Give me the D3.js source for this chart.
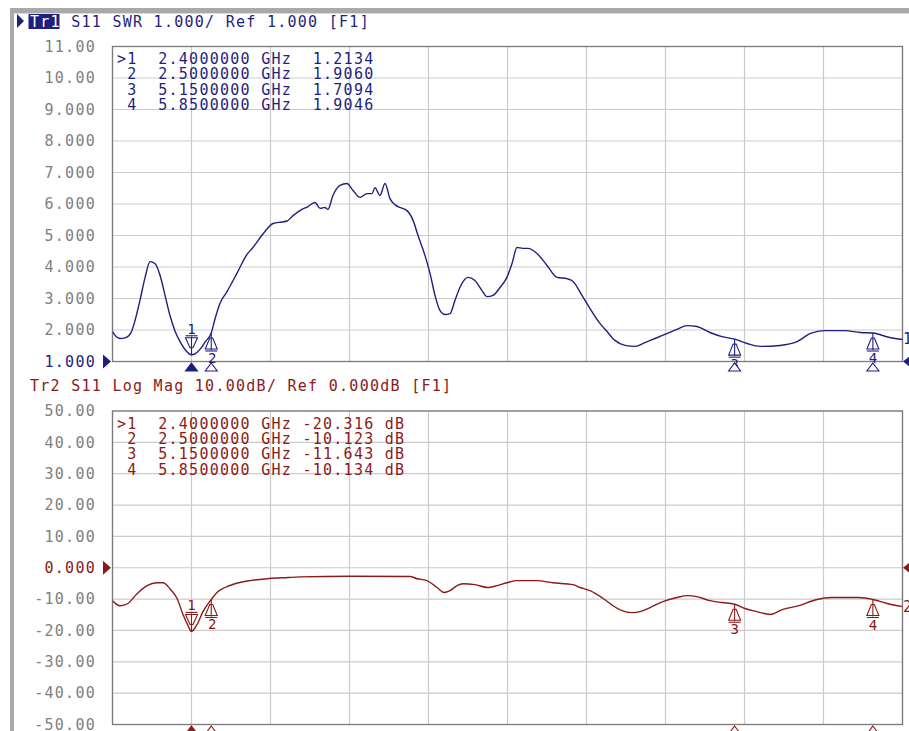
<!DOCTYPE html>
<html>
<head>
<meta charset="utf-8">
<title>S11 SWR / Log Mag</title>
<script src="https://d3js.org/d3.v7.min.js"></script>
<style>
  body { margin: 0; background: #fff; }
  #vna { display: block; }
  #vna text { font-family: "DejaVu Sans Mono", "Liberation Mono", monospace; white-space: pre; }
</style>
</head>
<body>
<svg id="vna"></svg>
<script>
// frequency grid, GHz
const freqTicks = [2.0, 2.4, 2.8, 3.2, 3.6, 4.0, 4.4, 4.8, 5.2, 5.6, 6.0];

// Tr1  S11 SWR  [GHz, SWR]
const swrTrace = [
  [2.000,1.95],[2.018,1.79],[2.038,1.73],[2.068,1.76],[2.094,1.92],[2.114,2.30],[2.139,2.94],
  [2.165,3.67],[2.190,4.17],[2.215,4.11],[2.241,3.73],[2.266,3.10],[2.291,2.46],[2.316,1.98],
  [2.342,1.63],[2.367,1.38],[2.400,1.2134],[2.420,1.25],[2.446,1.41],[2.470,1.63],[2.500,1.906],
  [2.519,2.35],[2.544,2.84],[2.580,3.22],[2.630,3.80],[2.681,4.40],[2.711,4.62],[2.762,5.05],
  [2.813,5.38],[2.858,5.43],[2.884,5.46],[2.914,5.63],[2.949,5.79],[2.990,5.92],[3.025,6.05],
  [3.051,5.86],[3.076,5.89],[3.091,5.83],[3.116,6.27],[3.152,6.59],[3.187,6.65],[3.218,6.43],
  [3.253,6.21],[3.289,6.33],[3.314,6.33],[3.329,6.52],[3.354,6.27],[3.380,6.65],[3.405,6.17],
  [3.430,5.98],[3.456,5.89],[3.491,5.79],[3.522,5.48],[3.547,5.00],[3.582,4.37],[3.608,3.79],
  [3.633,3.10],[3.658,2.62],[3.684,2.49],[3.709,2.52],[3.734,2.94],[3.759,3.35],[3.800,3.67],
  [3.835,3.57],[3.871,3.25],[3.896,3.06],[3.927,3.10],[3.962,3.35],[3.997,3.67],[4.023,4.11],
  [4.048,4.62],[4.078,4.59],[4.104,4.59],[4.149,4.43],[4.200,4.05],[4.251,3.67],[4.301,3.63],
  [4.332,3.54],[4.377,3.10],[4.418,2.68],[4.468,2.21],[4.504,1.95],[4.544,1.67],[4.595,1.51],
  [4.646,1.48],[4.696,1.60],[4.747,1.73],[4.797,1.86],[4.858,2.02],[4.909,2.14],[4.959,2.11],
  [5.025,1.92],[5.086,1.79],[5.150,1.7094],[5.213,1.57],[5.281,1.48],[5.380,1.51],[5.466,1.63],
  [5.534,1.89],[5.605,1.98],[5.706,1.98],[5.787,1.92],[5.850,1.9046],[5.935,1.76],[6.000,1.70]
];
const swrTicks = [11, 10, 9, 8, 7, 6, 5, 4, 3, 2, 1];
const swrTickLabels = ["11.00", "10.00", "9.000", "8.000", "7.000", "6.000", "5.000", "4.000", "3.000", "2.000", "1.000"];

// Tr2  S11 Log Mag  [GHz, dB]
const dbTrace = [
  [2.000,-10.5],[2.038,-12.1],[2.078,-11.4],[2.124,-8.3],[2.175,-5.7],[2.225,-4.8],[2.256,-4.8],
  [2.291,-6.7],[2.327,-9.8],[2.357,-14.9],[2.382,-18.4],[2.400,-20.316],[2.428,-18.1],[2.458,-14.0],
  [2.500,-10.123],[2.529,-7.9],[2.570,-6.3],[2.620,-5.1],[2.696,-4.1],[2.782,-3.5],[2.863,-3.2],
  [2.949,-2.9],[3.203,-2.7],[3.506,-2.8],[3.542,-3.5],[3.592,-4.1],[3.643,-6.3],[3.678,-7.9],
  [3.709,-7.3],[3.744,-5.7],[3.775,-5.1],[3.835,-5.4],[3.901,-6.3],[3.947,-5.7],[3.997,-4.8],
  [4.048,-4.1],[4.149,-4.1],[4.230,-4.8],[4.332,-5.4],[4.367,-6.3],[4.418,-7.3],[4.484,-9.8],
  [4.534,-12.1],[4.580,-13.7],[4.630,-14.3],[4.671,-14.0],[4.722,-12.7],[4.787,-10.8],[4.858,-9.5],
  [4.909,-8.9],[4.959,-9.2],[5.025,-10.5],[5.086,-11.1],[5.150,-11.643],[5.203,-13.0],[5.263,-14.0],
  [5.329,-14.9],[5.395,-13.3],[5.476,-12.1],[5.562,-10.2],[5.643,-9.5],[5.780,-9.5],[5.850,-10.134],
  [5.922,-11.4],[6.000,-12.4]
];
const dbTicks = [50, 40, 30, 20, 10, 0, -10, -20, -30, -40, -50];
const dbTickLabels = ["50.00", "40.00", "30.00", "20.00", "10.00", "0.000", "-10.00", "-20.00", "-30.00", "-40.00", "-50.00"];

// markers
const markerIds = ["1", "2", "3", "4"];
const markerFreq = [2.4, 2.5, 5.15, 5.85];
const markerSwr = [1.2134, 1.9060, 1.7094, 1.9046];
const markerDb = [-20.316, -10.123, -11.643, -10.134];

const W = 909, H = 731;
const blue = '#1f1f80', red = '#8b1a1a', gray = '#808080', gridCol = '#cbcbcb';
const fs = 15, ls = 1.27;   // mono text size / spacing -> ~10.3px per char

const svg = d3.select('#vna').attr('width', W).attr('height', H);
const x = d3.scaleLinear().domain([2, 6]).range([112.5, 902.5]);

// window frame
svg.append('rect').attr('x', 12).attr('y', 8).attr('width', W - 12).attr('height', 5).attr('fill', '#a9a9a9');
svg.append('rect').attr('x', 10).attr('y', 8).attr('width', 4).attr('height', H - 8).attr('fill', '#a9a9a9');
svg.append('line').attr('x1', 14).attr('x2', W).attr('y1', 13.5).attr('y2', 13.5).attr('stroke', '#dcdcdc');

function panel(o) {
  const y = d3.scaleLinear().domain(o.domain).range([o.bottom, o.top]);
  const g = svg.append('g');
  const clipId = 'clip' + o.id;

  g.append('clipPath').attr('id', clipId).append('rect')
    .attr('x', x(2)).attr('y', o.top).attr('width', x(6) - x(2)).attr('height', o.bottom - o.top);

  // grid
  g.selectAll('line.vg').data(freqTicks).join('line').attr('class', 'vg')
    .attr('x1', d => x(d)).attr('x2', d => x(d)).attr('y1', o.top).attr('y2', o.bottom)
    .attr('stroke', gridCol).attr('stroke-width', 1.2);
  g.selectAll('line.hg').data(o.ticks).join('line').attr('class', 'hg')
    .attr('x1', x(2)).attr('x2', x(6)).attr('y1', d => y(d)).attr('y2', d => y(d))
    .attr('stroke', gridCol).attr('stroke-width', 1.2);
  g.append('rect').attr('x', x(2)).attr('y', o.top).attr('width', x(6) - x(2)).attr('height', o.bottom - o.top)
    .attr('fill', 'none').attr('stroke', '#7a7a7a').attr('stroke-width', 1.3);

  // y labels
  const ya = g.append('g').attr('transform', 'translate(96,0)')
    .call(d3.axisLeft(y).tickValues(o.ticks).tickSize(0).tickPadding(0)
      .tickFormat((d, i) => o.labels[i]));
  ya.select('.domain').remove();
  ya.selectAll('text')
    .attr('font-size', fs).attr('letter-spacing', ls)
    .attr('font-family', '"DejaVu Sans Mono", monospace')
    .attr('fill', d => d === o.ref ? o.color : gray);

  // reference level arrows
  const yr = y(o.ref);
  g.append('path').attr('d', `M103,${yr - 7}L111,${yr}L103,${yr + 7}Z`).attr('fill', o.color);
  g.append('path').attr('d', `M903,${yr}L912,${yr - 7}L912,${yr + 7}Z`).attr('fill', o.color);

  // header
  if (o.active) {
    g.append('rect').attr('x', 28.5).attr('y', o.headerY - 13).attr('width', 31).attr('height', 15)
      .attr('fill', o.color);
    g.append('path').attr('d', `M17,${o.headerY - 13}L24,${o.headerY - 6}L17,${o.headerY + 1}Z`)
      .attr('fill', o.color);
  }
  const hdr = g.append('text').attr('x', 30).attr('y', o.headerY)
    .attr('font-size', fs).attr('letter-spacing', ls).attr('fill', o.color);
  hdr.append('tspan').attr('fill', o.active ? '#fff' : o.color).text(o.trName);
  hdr.append('tspan').text(o.header);

  // marker table
  g.selectAll('text.mt').data(markerIds).join('text').attr('class', 'mt')
    .attr('x', 117).attr('y', (d, i) => o.top + 17.5 + i * 15.4)
    .attr('font-size', fs).attr('letter-spacing', ls).attr('fill', o.color)
    .text((d, i) => (i === 0 ? '>' : ' ') + d + '  ' + markerFreq[i].toFixed(7) + ' GHz' + o.fmt(o.mvals[i]));

  // trace
  const line = d3.line().x(d => x(d[0])).y(d => y(d[1])).curve(d3.curveMonotoneX);
  g.append('path').datum(o.trace).attr('d', line).attr('clip-path', `url(#${clipId})`)
    .attr('fill', 'none').attr('stroke', o.color).attr('stroke-width', 1.4);

  // trace number at right edge
  const last = o.trace[o.trace.length - 1];
  g.append('text').attr('x', 903).attr('y', y(last[1]) + 5).attr('font-size', 15)
    .attr('font-family', '"DejaVu Sans", sans-serif').attr('fill', o.color).text(o.trNum);

  // markers on trace
  markerIds.forEach((id, i) => {
    const mx = x(markerFreq[i]), my = y(o.mvals[i]);
    const m = g.append('g').attr('fill', 'none').attr('stroke', o.color).attr('stroke-width', 1.1);
    if (i === 0) {
      m.append('line').attr('x1', mx).attr('x2', mx).attr('y1', my - 18).attr('y2', my);
      m.append('path').attr('d', `M${mx - 6},${my - 17}L${mx + 6},${my - 17}L${mx + 1.5},${my - 7}L${mx - 1.5},${my - 7}Z`);
      m.append('line').attr('x1', mx - 6).attr('x2', mx + 6).attr('y1', my - 19).attr('y2', my - 19);
      g.append('text').attr('x', mx).attr('y', my - 21).attr('text-anchor', 'middle')
        .attr('font-size', 14).attr('font-family', '"DejaVu Sans", sans-serif').attr('fill', o.color).text(id);
    } else {
      m.append('line').attr('x1', mx).attr('x2', mx).attr('y1', my).attr('y2', my + 17);
      m.append('path').attr('d', `M${mx - 1.5},${my + 5}L${mx + 1.5},${my + 5}L${mx + 6},${my + 16}L${mx - 6},${my + 16}Z`);
      m.append('line').attr('x1', mx - 6).attr('x2', mx + 6).attr('y1', my + 18).attr('y2', my + 18);
      g.append('text').attr('x', mx + (i === 1 ? 1 : 0)).attr('y', my + 30).attr('text-anchor', 'middle')
        .attr('font-size', 14).attr('font-family', '"DejaVu Sans", sans-serif').attr('fill', o.color).text(id);
    }
    // marker indicator under the frequency axis
    const ty = o.bottom + 1.5;
    g.append('path').attr('d', `M${mx},${ty}L${mx + 6},${ty + 8}L${mx - 6},${ty + 8}Z`)
      .attr('fill', i === 0 ? o.color : '#fff').attr('stroke', o.color).attr('stroke-width', 1.1);
  });
}

panel({
  id: 1, trName: 'Tr1', trNum: '1', active: true, header: ' S11 SWR 1.000/ Ref 1.000 [F1]', headerY: 27,
  top: 46.5, bottom: 361.5, domain: [1, 11], ticks: swrTicks, labels: swrTickLabels, ref: 1,
  color: blue, trace: swrTrace, mvals: markerSwr, fmt: v => '  ' + v.toFixed(4)
});

panel({
  id: 2, trName: 'Tr2', trNum: '2', active: false, header: ' S11 Log Mag 10.00dB/ Ref 0.000dB [F1]', headerY: 391,
  top: 411, bottom: 724.5, domain: [-50, 50], ticks: dbTicks, labels: dbTickLabels, ref: 0,
  color: red, trace: dbTrace, mvals: markerDb, fmt: v => ' ' + v.toFixed(3) + ' dB'
});
</script>
</body>
</html>
